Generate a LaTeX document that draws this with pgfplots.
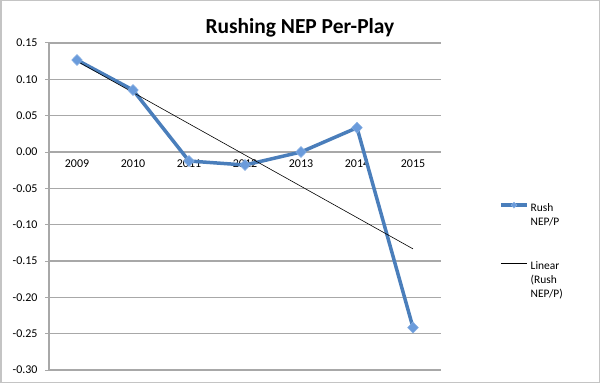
\documentclass[border=0pt]{standalone}
\usepackage{fontspec}
\setmainfont{Carlito}
\usepackage{pgfplots}
\pgfplotsset{compat=1.18}
\definecolor{serblue}{HTML}{4A7EBB}
\definecolor{mkblue}{HTML}{6A9BDB}
\definecolor{gridc}{HTML}{A8A8A8}
\definecolor{framec}{HTML}{C4C4C4}
\begin{document}
\begin{tikzpicture}[x=1bp,y=1bp]
\draw[framec, line width=1.5bp] (0.75,0.75) rectangle (599.25,382.25);
\begin{axis}[
  at={(49bp,13bp)}, anchor=south west,
  scale only axis, width=392bp, height=327bp,
  xmin=0.5, xmax=7.5, ymin=-0.30, ymax=0.15,
  axis x line=middle, axis y line=left,
  axis line style={gridc, line width=1.2bp, -},
  xtick={1,...,7},
  xticklabels={\mbox{2009},\mbox{2010},\mbox{2011},\mbox{2012},\mbox{2013},\mbox{2014},\mbox{2015}},
  x tick style={draw=none},
  extra x ticks={0.5,1.5,...,7.5},
  extra x tick labels={},
  extra x tick style={x tick style={gridc, line width=1bp}, xtick align=outside},
  major tick length=4bp,
  xticklabel style={font=\fontsize{12}{14}\selectfont, anchor=base, yshift=-13bp},
  ytick={-0.30,-0.25,...,0.15},
  yticklabels={\mbox{-0.30},\mbox{-0.25},\mbox{-0.20},\mbox{-0.15},\mbox{-0.10},\mbox{-0.05},\mbox{0.00},\mbox{0.05},\mbox{0.10},\mbox{0.15}},
  y tick style={gridc, line width=1bp},
  ytick align=outside,
  yticklabel style={font=\fontsize{12}{14}\selectfont, xshift=-4bp},
  ymajorgrids, major grid style={gridc, line width=1.2bp},
  title={Rushing NEP Per-Play},
  title style={at={(axis description cs:0.640,1)}, anchor=base, yshift=4bp, font=\fontsize{21.5}{24}\selectfont\bfseries},
  legend style={at={(1.148,0.522)}, anchor=north west, draw=none, fill=none, inner sep=0pt,
    font=\fontsize{11.5}{14}\selectfont, row sep=43bp, cells={anchor=north west}},
  legend cell align=left,
  clip=false,
]
\addplot[serblue, line width=3.5bp, mark=diamond*, mark size=5.5bp,
  mark options={fill=mkblue, draw=mkblue!80!white, line width=0.5bp, xscale=1.3},
  legend image code/.code={\draw[serblue, line width=3.5bp, mark=diamond*, mark size=3bp, mark options={fill=mkblue, draw=mkblue!80!white, line width=0.5bp, xscale=1.3}, mark repeat=2, mark phase=2] plot coordinates {(0bp,2bp) (13bp,2bp) (26bp,2bp)};}]
  coordinates {(1,0.1266) (2,0.0853) (3,-0.0124) (4,-0.0179) (5,0.0000) (6,0.0334) (7,-0.2416)};
\addlegendentry{\begin{tabular}[t]{@{}l@{}}Rush\\NEP/P\end{tabular}}
\addplot[black, line width=0.6bp,
  legend image code/.code={\draw[black, line width=0.6bp] (0bp,2bp) -- (26bp,2bp);}]
  coordinates {(1,0.1250) (7,-0.1333)};
\addlegendentry{\begin{tabular}[t]{@{}l@{}}Linear\\(Rush\\NEP/P)\end{tabular}}
\end{axis}
\end{tikzpicture}
\end{document}
